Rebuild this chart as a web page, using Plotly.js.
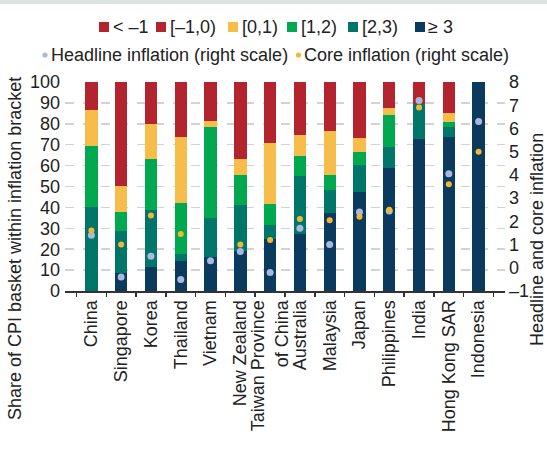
<!DOCTYPE html>
<html>
<head>
<meta charset="utf-8">
<script src="https://cdn.plot.ly/plotly-3.0.1.min.js"></script>
<style>html,body{margin:0;padding:0;background:#fff;}#chart{width:547px;height:465px;}</style>
</head>
<body>
<div id="chart"></div>
<script>
const countries = ['China','Singapore','Korea','Thailand','Vietnam','New Zealand','Taiwan Province<br>of China','Australia','Malaysia','Japan','Philippines','India','Hong Kong SAR','Indonesia'];
// shares of CPI basket (%) by inflation bracket
const geq3     = [0, 8.5, 11.3, 14.2, 16.1, 19.0, 24.8, 27.2, 37.2, 47.3, 58.8, 72.7, 73.6, 100];
const b2to3    = [40.1, 20.1, 27.4, 3.4, 18.7, 22.1, 6.7, 27.8, 11.0, 12.9, 10.0, 16.8, 4.8, 0];
const b1to2    = [29.2, 9.1, 24.4, 24.4, 43.6, 14.3, 10.0, 9.5, 7.2, 6.3, 15.4, 0, 2.4, 0];
const b0to1    = [17.3, 12.5, 16.8, 31.6, 2.9, 7.7, 29.3, 10.1, 21.1, 6.7, 3.3, 0, 4.3, 0];
const bm1to0   = [13.4, 49.8, 20.1, 26.4, 18.7, 36.9, 29.2, 25.4, 23.5, 26.8, 12.5, 10.5, 14.9, 0];
const ltm1     = [0, 0, 0, 0, 0, 0, 0, 0, 0, 0, 0, 0, 0, 0];
// inflation, % (right scale)
const headline = [1.4, -0.4, 0.5, -0.5, 0.3, 0.7, -0.2, 1.7, 1.0, 2.4, 2.45, 7.2, 4.05, 6.3];
const core     = [1.6, 1.0, 2.25, 1.45, null, 1.0, 1.2, 2.1, 2.05, 2.2, 2.5, 6.9, 3.6, 5.0];
const rightTicks = [-1, 0, 1, 2, 3, 4, 5, 6, 7, 8];
const rightTickText = ['–1','0','1','2','3','4','5','6','7','8'];

const FONT = 'Liberation Sans, Arial, sans-serif';
const TXT = '#222';
const COL = {ltm1:'#b3242f', m1to0:'#b3242f', b01:'#f6bd4a', b12:'#00a94f', b23:'#00766a', geq3:'#0b3a5f',
             head:'#a9b8dc', core:'#f5b731'};

// plot area in pixels
const L = 65, R = 42, T = 82, B = 174, W = 547 - L - R, H = 465 - T - B;
const px = x => (x - L) / W;
const py = y => (465 - B - y) / H;

function bar(name, y, color) {
  return {type:'bar', name:name, x:countries, y:y, marker:{color:color, line:{width:0}},
          hoverinfo:'skip', showlegend:false};
}
const traces = [
  bar('≥ 3', geq3, COL.geq3),
  bar('[2,3)', b2to3, COL.b23),
  bar('[1,2)', b1to2, COL.b12),
  bar('[0,1)', b0to1, COL.b01),
  bar('[–1,0)', bm1to0, COL.m1to0),
  bar('< –1', ltm1, COL.ltm1),
  {type:'scatter', mode:'markers', name:'Headline inflation (right scale)', x:countries, y:headline,
   yaxis:'y2', marker:{color:COL.head, size:7}, cliponaxis:false, showlegend:false},
  {type:'scatter', mode:'markers', name:'Core inflation (right scale)', x:countries, y:core,
   yaxis:'y2', marker:{color:COL.core, size:6}, cliponaxis:false, showlegend:false}
];

// legend drawn as shapes + text
const legRow1 = [
  {label:'< –1', color:COL.ltm1, bx:99, tx:113},
  {label:'[–1,0)', color:COL.m1to0, bx:156, tx:170},
  {label:'[0,1)', color:COL.b01, bx:228, tx:242},
  {label:'[1,2)', color:COL.b12, bx:287, tx:301},
  {label:'[2,3)', color:COL.b23, bx:348, tx:362},
  {label:'≥ 3', color:COL.geq3, bx:415, tx:428}
];
const legRow2 = [
  {label:'Headline inflation (right scale)', color:COL.head, cx:45, tx:51, r:2.6},
  {label:'Core inflation (right scale)', color:COL.core, cx:298.5, tx:304, r:2.6}
];
const shapes = [{type:'rect', xref:'paper', yref:'paper', x0:px(0), x1:px(547), y0:py(4), y1:py(-2),
           fillcolor:'#dde3e2', line:{width:0}, layer:'below'}];
const annotations = [];
legRow1.forEach(it => {
  shapes.push({type:'rect', xref:'paper', yref:'paper', x0:px(it.bx), x1:px(it.bx + 10),
               y0:py(32), y1:py(22), fillcolor:it.color, line:{width:0}});
  annotations.push({text:it.label, xref:'paper', yref:'paper', x:px(it.tx - 2), y:py(27.5),
               xanchor:'left', yanchor:'middle', showarrow:false, font:{size:18, color:TXT}});
});
legRow2.forEach(it => {
  shapes.push({type:'circle', xref:'paper', yref:'paper', x0:px(it.cx - it.r), x1:px(it.cx + it.r),
               y0:py(55 + it.r), y1:py(55 - it.r), fillcolor:it.color, line:{width:0}});
  annotations.push({text:it.label, xref:'paper', yref:'paper', x:px(it.tx - 2), y:py(54.5),
               xanchor:'left', yanchor:'middle', showarrow:false, font:{size:18, color:TXT}});
});
annotations.push(
  {text:'Share of CPI basket within inflation bracket', xref:'paper', yref:'paper', x:px(15), y:py(249),
   textangle:-90, showarrow:false, font:{size:18, color:TXT}, xanchor:'center', yanchor:'middle'},
  {text:'Headline and core inflation', xref:'paper', yref:'paper', x:px(537), y:py(240),
   textangle:-90, showarrow:false, font:{size:18, color:TXT}, xanchor:'center', yanchor:'middle'}
);

const layout = {
  width:547, height:465,
  margin:{l:L, r:R, t:T, b:B},
  paper_bgcolor:'#ffffff', plot_bgcolor:'#ffffff',
  font:{family:FONT, size:18, color:TXT},
  barmode:'stack', bargap:0.585,
  showlegend:false,
  xaxis:{type:'category', tickangle:-90, tickfont:{size:18, color:TXT},
         showline:true, linecolor:'#333', linewidth:2, ticks:'outside', tickson:'boundaries',
         ticklen:4, tickcolor:'#333', tickwidth:1.5, showgrid:false, zeroline:false, fixedrange:true},
  yaxis:{range:[0,100], tickvals:[0,10,20,30,40,50,60,70,80,90,100], tickfont:{size:18, color:TXT},
         showgrid:true, gridcolor:'#d3d3d3', griddash:'dash', gridwidth:1.5, zeroline:false,
         ticks:'', ticklabelstandoff:4, fixedrange:true},
  yaxis2:{range:[-1,8], overlaying:'y', side:'right', tickvals:rightTicks, ticktext:rightTickText,
          tickfont:{size:18, color:TXT}, showgrid:false, zeroline:false, ticks:'',
          ticklabelstandoff:3, fixedrange:true},
  shapes:shapes,
  annotations:annotations
};

Plotly.newPlot('chart', traces, layout, {displayModeBar:false, staticPlot:true});
</script>
</body>
</html>
